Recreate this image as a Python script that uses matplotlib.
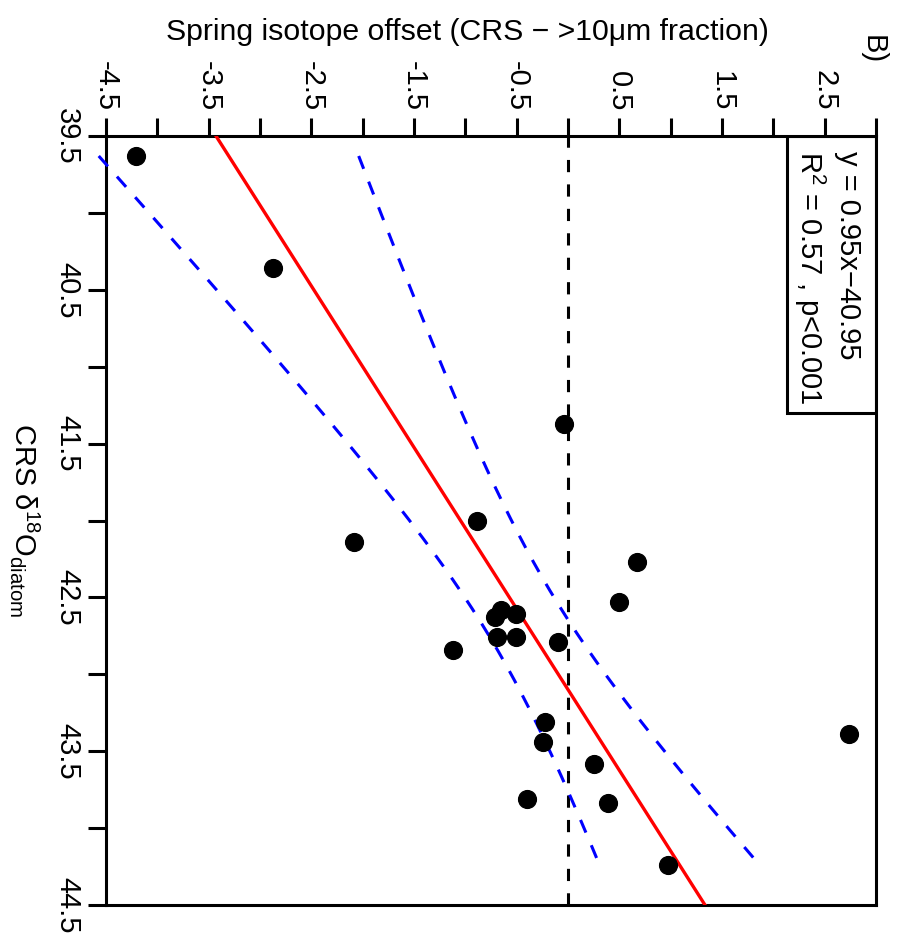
import numpy as np
import matplotlib
matplotlib.use("Agg")
import matplotlib.pyplot as plt
from matplotlib.patches import Rectangle

plt.rcParams['font.family'] = ['Liberation Sans', 'DejaVu Sans']
plt.rcParams['mathtext.fontset'] = 'custom'
plt.rcParams['mathtext.rm'] = 'Liberation Sans'
plt.rcParams['mathtext.it'] = 'Liberation Sans:italic'
plt.rcParams['mathtext.bf'] = 'Liberation Sans:bold'

# CRS d18O diatom vs spring offset (CRS - >10um fraction)
crs = [39.63, 40.36, 41.37, 42.00, 42.14, 42.27, 42.53, 42.58, 42.63, 42.61, 42.76,
       42.76, 42.79, 42.84, 43.31, 43.44, 43.58, 43.81, 43.84, 44.24, 43.39]
offset = [-4.21, -2.87, -0.04, -0.89, -2.08, 0.67, 0.50, -0.65, -0.71, -0.51, -0.69,
          -0.51, -0.10, -1.12, -0.22, -0.24, 0.25, -0.40, 0.39, 0.97, 2.74]

off_ticks = [-4.5, -4, -3.5, -3, -2.5, -2, -1.5, -1, -0.5, 0, 0.5, 1, 1.5, 2, 2.5, 3]
off_labels = ['-4.5', '', '-3.5', '', '-2.5', '', '-1.5', '', '-0.5', '', '0.5', '', '1.5', '', '2.5', '']
crs_ticks = [39.5, 40, 40.5, 41, 41.5, 42, 42.5, 43, 43.5, 44, 44.5]
crs_labels = ['39.5', '', '40.5', '', '41.5', '', '42.5', '', '43.5', '', '44.5']

eq_text = 'y = 0.95x\u221240.95'
r2_text = 'R$^{2}$ = 0.57 , p<0.001'

crs = np.array(crs)
offset = np.array(offset)

fig = plt.figure(figsize=(8.98, 9.35), dpi=100)
ax = fig.add_axes([106/898, 30/935, 770/898, 769/935])

# linear model and 95% confidence band
n = len(crs)
slope, intercept = np.polyfit(crs, offset, 1)
resid = offset - (slope*crs + intercept)
s = np.sqrt(np.sum(resid**2)/(n - 2))
sxx = np.sum((crs - crs.mean())**2)
t = 2.093  # t(0.975, df=19)
xs = np.linspace(crs.min(), crs.max(), 200)
fit = slope*xs + intercept
se = s*np.sqrt(1.0/n + (xs - crs.mean())**2/sxx)

ax.axvline(0, color='black', lw=2.2, ls=(0, (4, 4)), zorder=2)
ax.axline((intercept + slope*42, 42), slope=1/slope, color='red', lw=2.4, zorder=3)
ax.plot(fit - t*se, xs, color='blue', lw=2.2, ls=(0, (4.5, 4.5)), clip_on=False, zorder=3)
ax.plot(fit + t*se, xs, color='blue', lw=2.2, ls=(0, (4.5, 4.5)), clip_on=False, zorder=3)
ax.plot(offset, crs, 'o', color='black', ms=12.8, zorder=4)

ax.set_xlim(-4.5, 3.0)
ax.set_ylim(44.5, 39.5)
ax.xaxis.tick_top()
ax.set_xticks(off_ticks)
ax.set_xticklabels(off_labels)
ax.set_yticks(crs_ticks)
ax.set_yticklabels(crs_labels)
ax.tick_params(direction='out', length=13, width=2.2, labelsize=21, pad=5)
for lab in ax.get_xticklabels():
    lab.set_rotation(-90)
for lab in ax.get_yticklabels():
    lab.set_rotation(-90)
    lab.set_va('center')
for sp in ax.spines.values():
    sp.set_linewidth(2.2)

# legend box
ax.add_patch(Rectangle((0.884, 0.640), 0.116, 0.360, transform=ax.transAxes,
                       fill=False, lw=2.2, edgecolor='black', zorder=5))
ax.text(0.963, 0.981, eq_text, transform=ax.transAxes, rotation=-90,
        rotation_mode='anchor', ha='left', va='center', fontsize=21, zorder=6)
ax.text(0.914, 0.981, r2_text, transform=ax.transAxes, rotation=-90,
        rotation_mode='anchor', ha='left', va='center', fontsize=21, zorder=6)

fig.text(467/898, 1 - 32/935, 'Spring isotope offset (CRS \u2212 >10\u03bcm fraction)',
         ha='center', va='center', fontsize=21.8)
fig.text(25/898, 1 - 520/935, 'CRS \u03b4$^{18}$O$_{\\mathrm{diatom}}$',
         rotation=-90, ha='center', va='center', fontsize=21)
fig.text(873/898, 1 - 50/935, 'B)', rotation=-90, ha='center', va='center', fontsize=21)

fig.savefig('out.png', dpi=100)
